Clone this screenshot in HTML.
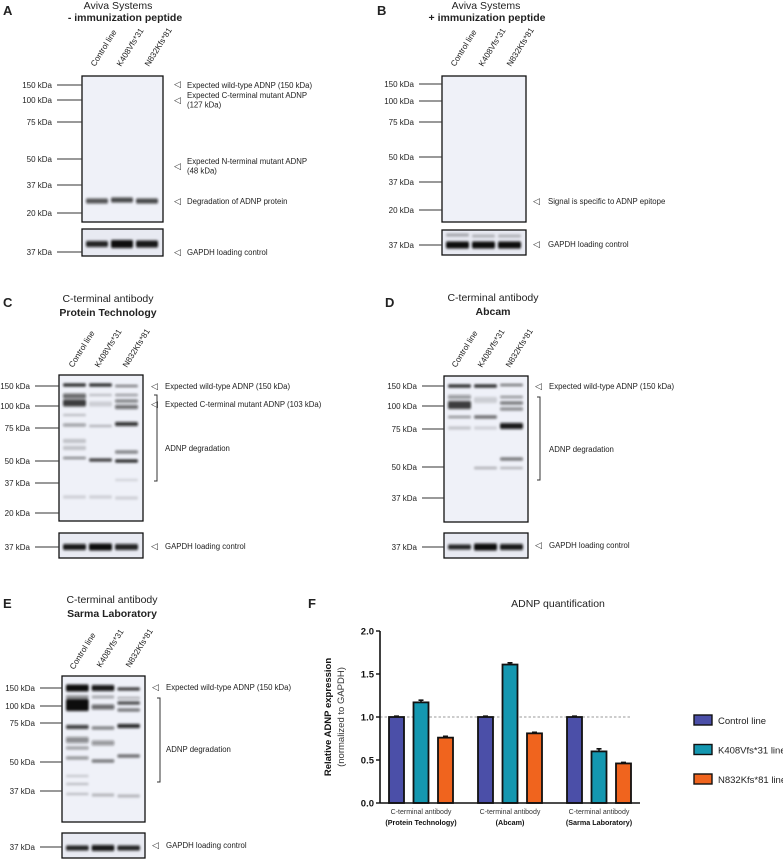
<!DOCTYPE html>
<html><head><meta charset="utf-8">
<style>
html,body{margin:0;padding:0;background:#fff;}
svg{display:block;font-family:"Liberation Sans",sans-serif;}
</style></head>
<body>
<svg id="fig" width="783" height="859" viewBox="0 0 783 859" xmlns="http://www.w3.org/2000/svg">
<defs>
<filter id="blur" x="-20%" y="-200%" width="140%" height="500%"><feGaussianBlur stdDeviation="1.1 1.3"/></filter>
</defs>
<g id="blots"></g>
<g id="texts" fill="#222">
  <text x="3" y="15" font-size="13" font-weight="bold">A</text>
  <text x="377" y="15" font-size="13" font-weight="bold">B</text>
  <text x="3" y="307" font-size="13" font-weight="bold">C</text>
  <text x="385" y="307" font-size="13" font-weight="bold">D</text>
  <text x="3" y="608" font-size="13" font-weight="bold">E</text>
  <text x="308" y="608" font-size="13" font-weight="bold">F</text>
  <text x="118" y="9" font-size="10.5" text-anchor="middle">Aviva Systems</text>
  <text x="125" y="21" font-size="10.5" font-weight="bold" text-anchor="middle">- immunization peptide</text>
  <text x="486" y="9" font-size="10.5" text-anchor="middle">Aviva Systems</text>
  <text x="487" y="21" font-size="10.5" font-weight="bold" text-anchor="middle">+ immunization peptide</text>
  <text x="108" y="302" font-size="10.5" text-anchor="middle">C-terminal antibody</text>
  <text x="108" y="316" font-size="10.5" font-weight="bold" text-anchor="middle">Protein Technology</text>
  <text x="493" y="301" font-size="10.5" text-anchor="middle">C-terminal antibody</text>
  <text x="493" y="315" font-size="10.5" font-weight="bold" text-anchor="middle">Abcam</text>
  <text x="112" y="603" font-size="10.5" text-anchor="middle">C-terminal antibody</text>
  <text x="112" y="617" font-size="10.5" font-weight="bold" text-anchor="middle">Sarma Laboratory</text>
</g>
<g id="chart"></g>
</svg>
<script>
// ---------- Chart data ----------
const categories = ["Protein Technology", "Abcam", "Sarma Laboratory"];
const seriesNames = ["Control line", "K408Vfs*31 line", "N832Kfs*81 line"];
const controlValues = [1.0, 1.0, 1.0];
const k408Values = [1.17, 1.61, 0.60];
const n832Values = [0.76, 0.81, 0.46];
const controlErr = [0.01, 0.01, 0.01];
const k408Err = [0.025, 0.02, 0.03];
const n832Err = [0.015, 0.012, 0.012];
const yTicks = [0.0, 0.5, 1.0, 1.5, 2.0];
const yTickLabels = ["0.0", "0.5", "1.0", "1.5", "2.0"];

const NS = "http://www.w3.org/2000/svg";
function mk(tag, attrs, parent, txt) {
  const e = document.createElementNS(NS, tag);
  for (const k in attrs) e.setAttribute(k, attrs[k]);
  if (txt !== undefined) e.textContent = txt;
  parent.appendChild(e);
  return e;
}

// ---------- Blots ----------
const blotG = document.getElementById("blots");
const lanesText = ["Control line", "K408Vfs*31", "N832Kfs*81"];
function panel(p) {
  const g = mk("g", {}, blotG);
  
  
  const bx = mk("rect", {x: p.x, y: p.y, width: p.w, height: p.h, fill: "#eff1f8"}, g);
  
  
  const lw = (p.w - 6) / 3;
  const bandsG = mk("g", {filter: "url(#blur)"}, g);
  p.bands.forEach(b => {
    const lx = p.x + 3 + b[0] * lw + 1;
    const r = mk("rect", {x: lx, y: b[1] - b[2] / 2, width: lw - 3, height: b[2], rx: 1.5, fill: "#111", "fill-opacity": b[3]}, bandsG);
    
    
  });
  mk("rect", {x: p.x, y: p.y, width: p.w, height: p.h, fill: "none", stroke: "#111", "stroke-width": 1.3}, g);
  const gb = mk("rect", {x: p.x, y: p.gy, width: p.w, height: p.gh, fill: "#e8eaf2"}, g);
  
  
  const gbG = mk("g", {filter: "url(#blur)"}, g);
  p.gbands.forEach(b => {
    const lx = p.x + 3 + b[0] * lw + 1;
    const r = mk("rect", {x: lx, y: b[1] - b[2] / 2, width: lw - 3, height: b[2], rx: 1.5, fill: "#111", "fill-opacity": b[3]}, gbG);
    
    
  });
  mk("rect", {x: p.x, y: p.gy, width: p.w, height: p.gh, fill: "none", stroke: "#111", "stroke-width": 1.3}, g);
  p.markers.forEach(m => {
    mk("line", {x1: p.mx, x2: p.x, y1: m[1], y2: m[1], stroke: "#333", "stroke-width": 1}, g);
    const t = mk("text", {x: p.mx - 5, y: m[1] + 3, "font-size": 8, "text-anchor": "end", fill: "#222"}, g, m[0]);
    
    
  });
  p.laneLab.forEach((l, i) => {
    const t = mk("text", {x: l[0], y: l[1], "font-size": 8.2, fill: "#222", transform: `rotate(-58 ${l[0]} ${l[1]})`}, g, lanesText[i]);
    
    
  });
  p.ann.forEach(a => {
    if (a.arrow) mk("text", {x: p.ax, y: a.y + 3, "font-size": 9, fill: "#333"}, g, "\u25C1");
    a.lines.forEach((ln, j) => {
      const t = mk("text", {x: p.tx, y: a.ty + j * 9.5, "font-size": 7.8, fill: "#222"}, g, ln);
      
      
    });
  });
  if (p.bracket) {
    const b = p.bracket;
    mk("path", {d: `M${b[0]-3} ${b[1]} H${b[0]} V${b[2]} H${b[0]-3}`, fill: "none", stroke: "#333", "stroke-width": 1}, g);
  }
}

panel({name: "blot-a", x: 82, y: 76, w: 81, h: 146, gy: 229, gh: 27, mx: 57,
  markers: [["150 kDa", 85], ["100 kDa", 100], ["75 kDa", 122], ["50 kDa", 159], ["37 kDa", 185], ["20 kDa", 213], ["37 kDa", 252]],
  laneLab: [[95, 67], [121, 67], [149, 67]],
  bands: [[0, 201, 5, 0.7], [1, 200, 5, 0.75], [2, 201, 5, 0.75]],
  gbands: [[0, 244, 6, 0.9], [1, 244, 8, 1], [2, 244, 7, 0.95]],
  ax: 174, tx: 187,
  ann: [{arrow: 1, y: 84, ty: 88, lines: ["Expected wild-type ADNP (150 kDa)"]},
        {arrow: 1, y: 100, ty: 98, lines: ["Expected C-terminal mutant ADNP", "(127 kDa)"]},
        {arrow: 1, y: 166, ty: 164, lines: ["Expected N-terminal mutant ADNP", "(48 kDa)"]},
        {arrow: 1, y: 201, ty: 204, lines: ["Degradation of ADNP protein"]},
        {arrow: 1, y: 252, ty: 255, lines: ["GAPDH loading control"]}]});

panel({name: "blot-b", x: 442, y: 76, w: 84, h: 146, gy: 230, gh: 25, mx: 419,
  markers: [["150 kDa", 84], ["100 kDa", 101], ["75 kDa", 122], ["50 kDa", 157], ["37 kDa", 182], ["20 kDa", 210], ["37 kDa", 245]],
  laneLab: [[455, 67], [483, 67], [511, 67]],
  bands: [],
  gbands: [[0, 235, 3, 0.3], [1, 236, 3, 0.25], [2, 236, 3, 0.25], [0, 245, 7, 1], [1, 245, 7, 1], [2, 245, 7, 1]],
  ax: 533, tx: 548,
  ann: [{arrow: 1, y: 201, ty: 204, lines: ["Signal is specific to ADNP epitope"]},
        {arrow: 1, y: 244, ty: 247, lines: ["GAPDH loading control"]}]});

panel({name: "blot-c", x: 59, y: 375, w: 84, h: 146, gy: 533, gh: 25, mx: 35,
  markers: [["150 kDa", 386], ["100 kDa", 406], ["75 kDa", 428], ["50 kDa", 461], ["37 kDa", 483], ["20 kDa", 513], ["37 kDa", 547]],
  laneLab: [[73, 368], [99, 368], [127, 368]],
  bands: [[0, 385, 3, 0.95], [1, 385, 3, 0.95], [2, 386, 2, 0.6],
          [0, 396, 5, 0.6], [0, 403, 7, 0.8], [0, 415, 2, 0.25], [0, 425, 3, 0.4], [0, 441, 4, 0.2], [0, 448, 4, 0.2], [0, 458, 2, 0.55], [0, 497, 3, 0.15],
          [1, 395, 2, 0.25], [1, 404, 5, 0.15], [1, 426, 2, 0.3], [1, 460, 3, 0.85], [1, 497, 3, 0.15],
          [2, 395, 2, 0.45], [2, 401, 3, 0.55], [2, 407, 4, 0.6], [2, 424, 4, 0.85], [2, 452, 3, 0.55], [2, 461, 3, 0.95], [2, 480, 2, 0.15], [2, 498, 3, 0.15]],
  gbands: [[0, 547, 6, 0.95], [1, 547, 7, 1], [2, 547, 6, 0.9]],
  ax: 151, tx: 165,
  ann: [{arrow: 1, y: 386, ty: 389, lines: ["Expected wild-type ADNP (150 kDa)"]},
        {arrow: 1, y: 404, ty: 407, lines: ["Expected C-terminal mutant ADNP (103 kDa)"]},
        {arrow: 0, y: 448, ty: 451, lines: ["ADNP degradation"]},
        {arrow: 1, y: 546, ty: 549, lines: ["GAPDH loading control"]}],
  bracket: [157, 395, 481]});

panel({name: "blot-d", x: 444, y: 376, w: 84, h: 146, gy: 533, gh: 25, mx: 422,
  markers: [["150 kDa", 386], ["100 kDa", 406], ["75 kDa", 429], ["50 kDa", 467], ["37 kDa", 498], ["37 kDa", 547]],
  laneLab: [[456, 368], [482, 368], [510, 368]],
  bands: [[0, 386, 3, 0.95], [1, 386, 3, 0.95], [2, 385, 2, 0.65],
          [0, 397, 4, 0.4], [0, 405, 8, 0.8], [0, 417, 2, 0.5], [0, 428, 3, 0.2],
          [1, 400, 6, 0.15], [1, 417, 3, 0.65], [1, 428, 3, 0.15], [1, 468, 2, 0.35],
          [2, 397, 2, 0.5], [2, 403, 3, 0.6], [2, 409, 3, 0.5], [2, 426, 6, 0.95], [2, 459, 3, 0.6], [2, 468, 2, 0.3]],
  gbands: [[0, 547, 5, 0.9], [1, 547, 7, 1], [2, 547, 6, 0.95]],
  ax: 535, tx: 549,
  ann: [{arrow: 1, y: 386, ty: 389, lines: ["Expected wild-type ADNP (150 kDa)"]},
        {arrow: 0, y: 449, ty: 452, lines: ["ADNP degradation"]},
        {arrow: 1, y: 545, ty: 548, lines: ["GAPDH loading control"]}],
  bracket: [540, 397, 480]});

panel({name: "blot-e", x: 62, y: 676, w: 83, h: 146, gy: 833, gh: 25, mx: 40,
  markers: [["150 kDa", 688], ["100 kDa", 706], ["75 kDa", 723], ["50 kDa", 762], ["37 kDa", 791], ["37 kDa", 847]],
  laneLab: [[74, 670], [101, 668], [130, 668]],
  bands: [[0, 688, 7, 1], [1, 688, 6, 0.95], [2, 689, 3, 0.85],
          [0, 697, 3, 0.5], [0, 705, 12, 1], [0, 727, 4, 0.8], [0, 740, 6, 0.45], [0, 748, 3, 0.4], [0, 758, 3, 0.45], [0, 776, 2, 0.2], [0, 784, 2, 0.25], [0, 794, 2, 0.25],
          [1, 697, 3, 0.3], [1, 707, 5, 0.6], [1, 728, 3, 0.55], [1, 743, 5, 0.4], [1, 761, 3, 0.6], [1, 795, 3, 0.25],
          [2, 698, 2, 0.35], [2, 703, 3, 0.8], [2, 710, 3, 0.6], [2, 726, 4, 0.9], [2, 756, 3, 0.65], [2, 796, 3, 0.25]],
  gbands: [[0, 848, 5, 0.9], [1, 848, 6, 0.95], [2, 848, 5, 0.9]],
  ax: 152, tx: 166,
  ann: [{arrow: 1, y: 687, ty: 690, lines: ["Expected wild-type ADNP (150 kDa)"]},
        {arrow: 0, y: 749, ty: 752, lines: ["ADNP degradation"]},
        {arrow: 1, y: 845, ty: 848, lines: ["GAPDH loading control"]}],
  bracket: [160, 698, 782]});

// ---------- Chart ----------
const chart = document.getElementById("chart");
const X0 = 380, X1 = 640, Y0 = 803, Y1 = 631, yMax = 2.0;
function yScale(v) { return Y0 - (v / yMax) * (Y0 - Y1); }
const groupStart = 389, groupStep = 89, barStep = 24.5, barW = 15;
function xBar(gi, si) { return groupStart + gi * groupStep + si * barStep; }
const colors = ["#4b4fa8", "#1497b0", "#f0641e"];
const allVals = [controlValues, k408Values, n832Values];
const allErr = [controlErr, k408Err, n832Err];

const title = mk("text", {x: 558, y: 607, "font-size": 10.5, "text-anchor": "middle", fill: "#222"}, chart, "ADNP quantification");



const ref = mk("line", {x1: X0, x2: X1 - 8, y1: yScale(1), y2: yScale(1), stroke: "#999", "stroke-width": 0.9, "stroke-dasharray": "2.5 2"}, chart);



allVals.forEach((vals, si) => {
  vals.forEach((v, gi) => {
    const x = xBar(gi, si);
    const r = mk("rect", {x: x, y: yScale(v), width: barW, height: Y0 - yScale(v), fill: colors[si], stroke: "#111", "stroke-width": 1.8}, chart);
    
    
    const e = allErr[si][gi];
    const cx = x + barW / 2;
    const eb = mk("path", {d: `M${cx} ${yScale(v)} V${yScale(v + e)} M${cx - 2.5} ${yScale(v + e)} H${cx + 2.5}`, stroke: "#111", "stroke-width": 1.6, fill: "none"}, chart);
    
    
  });
});

const ya = mk("line", {x1: X0, x2: X0, y1: Y1, y2: Y0, stroke: "#111", "stroke-width": 1.6}, chart);


const xa = mk("line", {x1: X0, x2: X1, y1: Y0, y2: Y0, stroke: "#111", "stroke-width": 1.6}, chart);


yTicks.forEach((t, i) => {
  mk("line", {x1: X0 - 4, x2: X0, y1: yScale(t), y2: yScale(t), stroke: "#111", "stroke-width": 1.4}, chart);
  const lb = mk("text", {x: X0 - 6, y: yScale(t) + 3.5, "font-size": 9.5, "font-weight": "bold", "text-anchor": "end", fill: "#111"}, chart, yTickLabels[i]);
  
  
});
const yt1 = mk("text", {x: 0, y: 0, "font-size": 9.5, "font-weight": "bold", "text-anchor": "middle", fill: "#111", transform: "translate(331 717) rotate(-90)"}, chart, "Relative ADNP expression");


const yt2 = mk("text", {x: 0, y: 0, "font-size": 9.5, "text-anchor": "middle", fill: "#333", transform: "translate(344 717) rotate(-90)"}, chart, "(normalized to GAPDH)");



categories.forEach((c, gi) => {
  const cx = xBar(gi, 1) + barW / 2;
  const a = mk("text", {x: cx, y: 814, "font-size": 7, "text-anchor": "middle", fill: "#333"}, chart, "C-terminal antibody");
  
  
  const b = mk("text", {x: cx, y: 825, "font-size": 7.2, "font-weight": "bold", "text-anchor": "middle", fill: "#111"}, chart, "(" + c + ")");
  
  
});

seriesNames.forEach((n, si) => {
  const y = 715 + si * 29.5;
  const sw = mk("rect", {x: 694, y: y, width: 18, height: 10, fill: colors[si], stroke: "#111", "stroke-width": 1.4}, chart);
  
  
  const t = mk("text", {x: 718, y: y + 9, "font-size": 9.5, fill: "#222"}, chart, n);
  
  
});
</script>
</body></html>
